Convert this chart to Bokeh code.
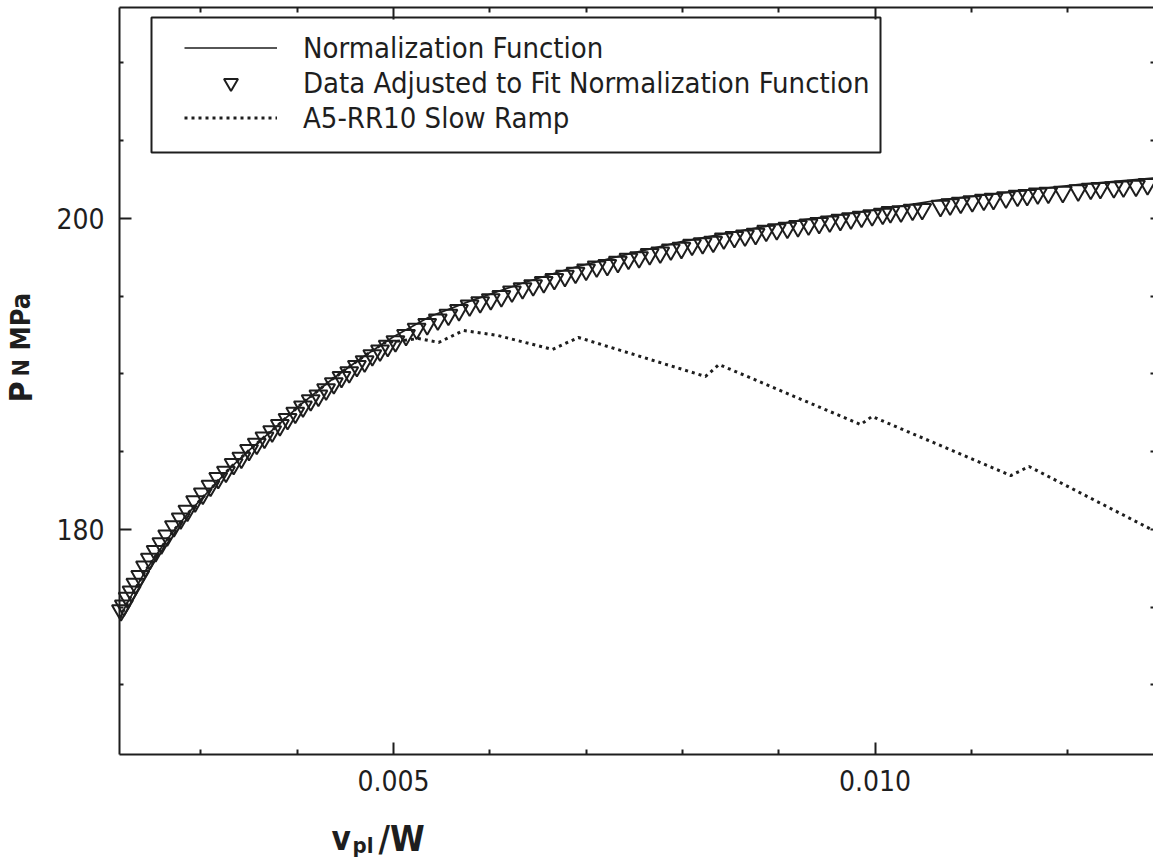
import math
from bokeh.plotting import figure
from bokeh.models import (Range1d, LinearAxis, FixedTicker, NumeralTickFormatter,
                          Legend, LegendItem, BoxAnnotation, Label, ColumnDataSource)
from bokeh.embed import file_html
from bokeh.resources import INLINE

FONT = "DejaVu Sans Condensed"
INK = "#1e1e1e"

# ---------------- data ----------------
norm_x = [0.00216, 0.00222, 0.00232, 0.00243, 0.00253, 0.00263, 0.00274, 0.00289, 0.00310,
          0.00331, 0.00352, 0.00378, 0.00403, 0.00435, 0.00466, 0.00500, 0.00538, 0.00580,
          0.00632, 0.00684, 0.00736, 0.00798, 0.00860, 0.00923, 0.00995, 0.01068, 0.01141,
          0.01213, 0.01290]
norm_y = [174.3, 175.1, 176.2, 177.4, 178.3, 179.2, 180.1, 181.2, 182.6,
          184.0, 185.2, 186.6, 188.0, 189.6, 191.0, 192.4, 193.7, 194.7,
          195.8, 196.8, 197.6, 198.5, 199.2, 199.9, 200.5, 201.2, 201.7,
          202.2, 202.6]

adj_x = [0.00217, 0.00220, 0.00224, 0.00228, 0.00232, 0.00237, 0.00242, 0.00247, 0.00253,
         0.00259, 0.00265, 0.00272, 0.00279, 0.00286, 0.00294,
         0.00302, 0.00310, 0.00318, 0.00326, 0.00334, 0.00342, 0.00350, 0.00358, 0.00366,
         0.00374, 0.00382, 0.00390, 0.00398, 0.00406, 0.00414, 0.00422, 0.00430, 0.00438,
         0.00446, 0.00454, 0.00462, 0.00470, 0.00478, 0.00486, 0.00494,
         0.00502, 0.00513, 0.00524, 0.00535, 0.00546, 0.00557, 0.00568, 0.00579, 0.00590,
         0.00601, 0.00612, 0.00623, 0.00634, 0.00645, 0.00656, 0.00667, 0.00678, 0.00689,
         0.00700, 0.00711, 0.00722, 0.00733, 0.00744, 0.00755, 0.00766, 0.00777, 0.00788,
         0.00799, 0.00810, 0.00821, 0.00832, 0.00843, 0.00854, 0.00865, 0.00876, 0.00887,
         0.00898, 0.00909, 0.00920, 0.00931, 0.00942, 0.00953, 0.00964, 0.00975, 0.00986,
         0.00997, 0.01008, 0.01016,
         0.01027, 0.01039, 0.01049, 0.01068, 0.01078, 0.01089, 0.01101, 0.01113, 0.01123,
         0.01136, 0.01148, 0.01158, 0.01169, 0.01180, 0.01195, 0.01211, 0.01224, 0.01234,
         0.01248, 0.01258, 0.01271, 0.01283]
adj_y = [174.8, 175.1, 175.6, 176.0, 176.5, 177.0, 177.6, 178.1, 178.6,
         179.1, 179.6, 180.2, 180.7, 181.2, 181.8,
         182.3, 182.8, 183.3, 183.7, 184.2, 184.6, 185.1, 185.5, 185.9,
         186.3, 186.7, 187.1, 187.5, 187.9, 188.3, 188.6, 189.0, 189.4,
         189.8, 190.1, 190.5, 190.8, 191.2, 191.5, 191.8,
         192.1, 192.5, 192.9, 193.2, 193.5, 193.8, 194.1, 194.4, 194.6,
         194.8, 195.0, 195.3, 195.5, 195.7, 195.9, 196.1, 196.3, 196.5,
         196.7, 196.9, 197.0, 197.2, 197.4, 197.5, 197.7, 197.8, 198.0,
         198.1, 198.3, 198.4, 198.5, 198.7, 198.8, 198.9, 199.0, 199.2,
         199.3, 199.4, 199.5, 199.6, 199.7, 199.8, 199.9, 200.0, 200.1,
         200.2, 200.3, 200.4,
         200.45, 200.55, 200.6, 200.8, 200.9, 201.0, 201.1, 201.2, 201.25,
         201.35, 201.45, 201.5, 201.6, 201.65, 201.7, 201.8, 201.9, 201.95,
         202.0, 202.05, 202.1, 202.2]

ramp_x = [0.00216, 0.00222, 0.00232, 0.00243, 0.00253, 0.00263, 0.00274, 0.00289, 0.00310,
          0.00331, 0.00352, 0.00378, 0.00403, 0.00435, 0.00466, 0.00490,
          0.00526, 0.00547, 0.00573, 0.00608, 0.00665, 0.00692, 0.00824, 0.00838,
          0.00985, 0.00997, 0.01141, 0.01160, 0.01289]
ramp_y = [174.3, 175.1, 176.2, 177.4, 178.3, 179.2, 180.1, 181.2, 182.6,
          184.0, 185.2, 186.6, 188.0, 189.6, 191.0, 192.0,
          192.28, 192.03, 192.80, 192.48, 191.58, 192.35, 189.84, 190.61,
          186.75, 187.27, 183.47, 184.05, 179.94]

x_major = [0.005, 0.010]
x_minor = [0.003, 0.004, 0.006, 0.007, 0.008, 0.009, 0.011, 0.012]
y_major = [180, 200]
y_minor = [170, 175, 185, 190, 195, 205, 210]

labels = ["Normalization Function",
          "Data Adjusted to Fit Normalization Function",
          "A5-RR10 Slow Ramp"]

# axis box (data extent of the drawn frame)
X_LO, X_HI = 0.0021548, 0.012892
Y_LO, Y_HI = 165.531, 213.569

# ---------------- figure ----------------
p = figure(width=1153, height=866,
           x_range=Range1d(0.000919, 0.012892), y_range=Range1d(158.328, 214.019),
           output_backend="svg", toolbar_location=None,
           min_border_left=0, min_border_right=0, min_border_top=0, min_border_bottom=0)
p.outline_line_color = None
p.grid.visible = False
p.background_fill_color = "white"
p.border_fill_color = "white"

xt = FixedTicker(ticks=x_major, minor_ticks=x_minor)
yt = FixedTicker(ticks=y_major, minor_ticks=y_minor)


def style_axis(ax, major_in, minor_in, show_labels=True, line=True):
    ax.axis_line_color = INK if line else None
    ax.axis_line_width = 2
    ax.major_tick_line_color = INK
    ax.minor_tick_line_color = INK
    ax.major_tick_line_width = 2
    ax.minor_tick_line_width = 2
    ax.major_tick_in = major_in
    ax.major_tick_out = 0
    ax.minor_tick_in = minor_in
    ax.minor_tick_out = 0
    ax.major_label_text_font = FONT
    ax.major_label_text_font_size = "28px"
    ax.major_label_text_color = INK if show_labels else None


xb = p.xaxis[0]
xb.ticker = xt
xb.formatter = NumeralTickFormatter(format="0.000")
xb.fixed_location = Y_LO
xb.bounds = (X_LO, X_HI)
style_axis(xb, 12, 5)
xb.major_label_standoff = 16

yl = p.yaxis[0]
yl.ticker = yt
yl.fixed_location = X_LO
yl.bounds = (Y_LO, Y_HI)
style_axis(yl, 12, 4)
yl.major_label_standoff = 15

xtop = LinearAxis(ticker=xt, fixed_location=Y_HI, bounds=(X_LO, X_HI))
style_axis(xtop, 12, 5, show_labels=False)
p.add_layout(xtop, "above")

yright = LinearAxis(ticker=yt, fixed_location=X_HI, bounds=(Y_LO, Y_HI))
style_axis(yright, 3, 3, show_labels=False, line=False)
p.add_layout(yright, "right")

# ---------------- glyphs ----------------
src_adj = ColumnDataSource(dict(x=adj_x, y=adj_y))
src_norm = ColumnDataSource(dict(x=norm_x, y=norm_y))
src_ramp = ColumnDataSource(dict(x=ramp_x, y=ramp_y))

r_adj = p.scatter("x", "y", source=src_adj, marker="inverted_triangle", size=18,
                  fill_color=None, line_color=INK, line_width=2)
r_norm = p.line("x", "y", source=src_norm, line_color=INK, line_width=1.7)
r_ramp = p.line("x", "y", source=src_ramp, line_color=INK, line_width=3, line_dash="3 4")

# ---------------- legend ----------------
box = BoxAnnotation(left=151, right=880, top=17, bottom=152,
                    left_units="canvas", right_units="canvas",
                    top_units="canvas", bottom_units="canvas",
                    fill_color=None, fill_alpha=0, line_color=INK, line_alpha=1.0,
                    line_width=2)
p.add_layout(box)

legend = Legend(items=[LegendItem(label=labels[0], renderers=[r_norm]),
                       LegendItem(label=labels[1], renderers=[r_adj]),
                       LegendItem(label=labels[2], renderers=[r_ramp])],
                location=(184, 731), padding=0, margin=0, spacing=0,
                glyph_width=93, glyph_height=35, label_height=35, label_standoff=26,
                label_text_font=FONT, label_text_font_size="29px", label_text_color=INK,
                border_line_color=None, background_fill_alpha=0)
p.add_layout(legend)


# ---------------- axis titles ----------------
def lab(text, x, y, size, angle=0.0):
    return Label(x=x, y=y, x_units="canvas", y_units="canvas", text=text, angle=angle,
                 text_font=FONT, text_font_size=size, text_font_style="bold",
                 text_color=INK, text_align="left", text_baseline="alphabetic")


p.add_layout(lab("v", 331, 838, "33px"))
p.add_layout(lab("pl", 352, 845, "22px"))
p.add_layout(lab("/W", 378, 838, "35px"))

p.add_layout(lab("P", 20, 402, "32px", math.pi / 2))
p.add_layout(lab("N", 20, 376, "23px", math.pi / 2))
p.add_layout(lab("MPa", 20, 350, "27px", math.pi / 2))

open("out.html", "w").write(file_html(p, INLINE))
